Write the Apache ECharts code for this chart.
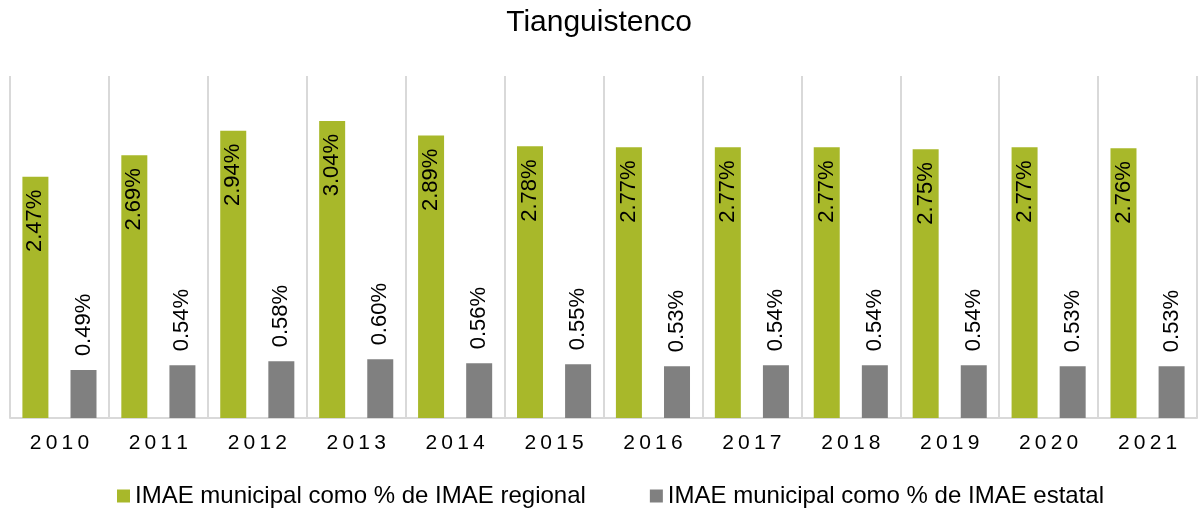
<!DOCTYPE html>
<html>
<head>
<meta charset="utf-8">
<script src="https://cdn.jsdelivr.net/npm/echarts@6/dist/echarts.min.js"></script>
<style>
  html, body { margin: 0; padding: 0; background: #fff; }
  #main { width: 1198px; height: 508px; }
</style>
</head>
<body>
<div id="main"></div>
<script>
var years = ['2010', '2011', '2012', '2013', '2014', '2015', '2016', '2017', '2018', '2019', '2020', '2021'];
var regional = [2.47, 2.69, 2.94, 3.04, 2.89, 2.78, 2.77, 2.77, 2.77, 2.75, 2.77, 2.76];
var estatal = [0.49, 0.54, 0.58, 0.60, 0.56, 0.55, 0.53, 0.54, 0.54, 0.54, 0.53, 0.53];
var seriesNames = ['IMAE municipal como % de IMAE regional', 'IMAE municipal como % de IMAE estatal'];

var myChart = echarts.init(document.getElementById('main'));

function pct(p) {
    return p.value.toFixed(2) + '%';
}

myChart.setOption({
    animation: false,
    textStyle: { fontFamily: '"Liberation Sans", Arial, sans-serif' },
    title: {
        text: 'Tianguistenco',
        left: 'center',
        top: 3,
        textStyle: { fontSize: 30, fontWeight: 'normal', color: '#000' }
    },
    legend: {
        data: seriesNames,
        left: 112,
        top: 479,
        itemWidth: 13,
        itemHeight: 13,
        itemGap: 64,
        icon: 'rect',
        textStyle: { fontSize: 24, color: '#000' }
    },
    grid: { left: 10, right: 1, top: 76, bottom: 90, containLabel: false },
    xAxis: {
        type: 'category',
        data: years,
        axisLine: { lineStyle: { color: '#D9D9D9', width: 2 } },
        axisTick: { show: false },
        splitLine: { show: true, lineStyle: { color: '#D9D9D9', width: 2 } },
        axisLabel: {
            fontSize: 21,
            color: '#000',
            margin: 15,
            formatter: function (v) { return v.split('').join('\u2009'); }
        }
    },
    yAxis: {
        type: 'value',
        min: 0,
        max: 3.5,
        show: false,
        splitLine: { show: false }
    },
    series: [
        {
            name: seriesNames[0],
            type: 'bar',
            data: regional,
            barWidth: 26,
            barGap: '85%',
            itemStyle: { color: '#A8B82A' },
            label: {
                show: true,
                position: 'insideTop',
                distance: 13,
                rotate: 90,
                align: 'right',
                verticalAlign: 'middle',
                fontSize: 22,
                color: '#000',
                formatter: pct
            }
        },
        {
            name: seriesNames[1],
            type: 'bar',
            data: estatal,
            barWidth: 26,
            itemStyle: { color: '#808080' },
            label: {
                show: true,
                position: 'top',
                distance: 14,
                rotate: 90,
                align: 'left',
                verticalAlign: 'middle',
                fontSize: 22,
                color: '#000',
                formatter: pct
            }
        }
    ]
});
</script>
</body>
</html>
